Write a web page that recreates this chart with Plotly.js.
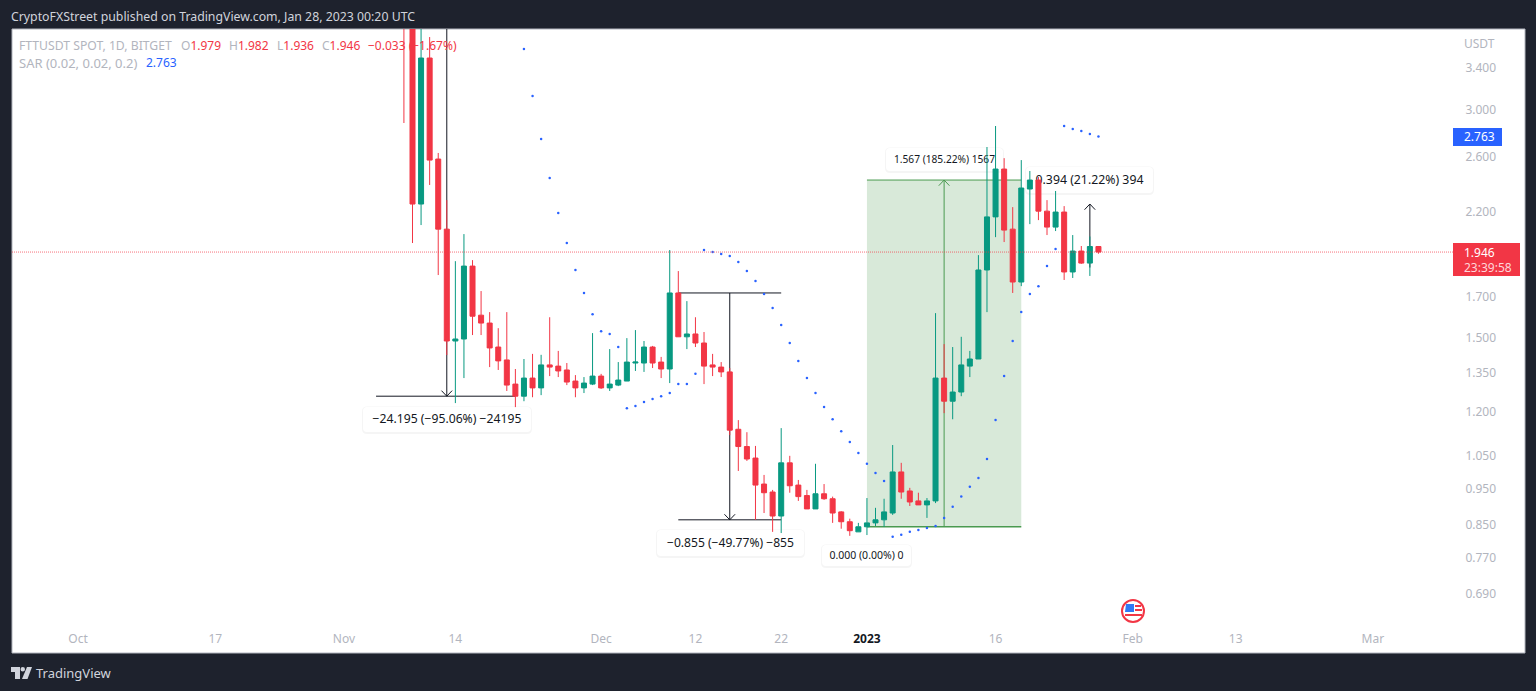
<!DOCTYPE html>
<html>
<head>
<meta charset="utf-8">
<script src="https://cdn.plot.ly/plotly-3.0.1.min.js"></script>
<style>html,body{margin:0;padding:0;background:#1e222d;overflow:hidden}#c{width:1536px;height:691px}</style>
</head>
<body>
<div id="c"></div>
<script>
const dates = [
"2022-11-08","2022-11-09","2022-11-10","2022-11-11","2022-11-12","2022-11-13","2022-11-14","2022-11-15","2022-11-16","2022-11-17","2022-11-18","2022-11-19","2022-11-20","2022-11-21","2022-11-22","2022-11-23","2022-11-24","2022-11-25","2022-11-26","2022-11-27","2022-11-28","2022-11-29","2022-11-30",
"2022-12-01","2022-12-02","2022-12-03","2022-12-04","2022-12-05","2022-12-06","2022-12-07","2022-12-08","2022-12-09","2022-12-10","2022-12-11","2022-12-12","2022-12-13","2022-12-14","2022-12-15","2022-12-16","2022-12-17","2022-12-18","2022-12-19","2022-12-20","2022-12-21","2022-12-22","2022-12-23","2022-12-24","2022-12-25","2022-12-26","2022-12-27","2022-12-28","2022-12-29","2022-12-30","2022-12-31",
"2023-01-01","2023-01-02","2023-01-03","2023-01-04","2023-01-05","2023-01-06","2023-01-07","2023-01-08","2023-01-09","2023-01-10","2023-01-11","2023-01-12","2023-01-13","2023-01-14","2023-01-15","2023-01-16","2023-01-17","2023-01-18","2023-01-19","2023-01-20","2023-01-21","2023-01-22","2023-01-23","2023-01-24","2023-01-25","2023-01-26","2023-01-27","2023-01-28"];

const opens = [6.0,5.0,2.251,3.505,2.58,2.086,1.486,1.495,1.865,1.607,1.569,1.459,1.403,1.304,1.257,1.328,1.289,1.382,1.377,1.361,1.316,1.289,1.304,
1.336,1.289,1.300,1.316,1.390,1.390,1.459,1.394,1.365,1.719,1.505,1.518,1.477,1.382,1.373,1.353,1.137,1.079,1.042,0.963,0.940,0.874,1.027,0.960,0.930,0.893,0.935,0.921,0.885,0.859,0.833,
0.846,0.856,0.864,0.882,0.999,0.943,0.915,0.904,0.915,1.328,1.238,1.273,1.377,1.407,1.843,2.165,2.503,2.086,1.777,2.356,2.421,2.203,2.099,2.197,1.832,1.952,1.882,1.979];
const highs = [7.0,5.5,4.2,3.735,2.628,2.278,1.893,2.055,1.899,1.729,1.622,1.545,1.622,1.365,1.407,1.429,1.425,1.597,1.442,1.390,1.340,1.332,1.522,
1.345,1.450,1.394,1.499,1.536,1.486,1.464,1.416,1.958,1.837,1.677,1.597,1.527,1.429,1.394,1.369,1.169,1.127,1.081,0.990,0.946,1.141,1.049,0.975,0.946,1.024,0.963,0.927,0.887,0.867,0.856,
0.923,0.896,0.921,1.084,1.027,0.952,0.938,0.923,1.617,1.472,1.459,1.505,1.442,1.928,2.676,2.852,2.587,2.230,2.572,2.488,2.443,2.278,2.342,2.237,2.049,1.982,2.04,1.982];
const lows = [2.878,2.000,2.112,2.385,1.815,1.424,1.231,1.328,1.513,1.513,1.373,1.361,1.277,1.216,1.238,1.253,1.261,1.336,1.332,1.300,1.253,1.269,1.300,
1.285,1.277,1.296,1.316,1.357,1.353,1.369,1.328,1.308,1.505,1.450,1.459,1.304,1.336,1.332,1.117,1.002,1.033,0.864,0.882,0.833,0.830,0.938,0.915,0.893,0.893,0.918,0.856,0.841,0.823,0.833,
0.825,0.848,0.846,0.877,0.921,0.901,0.904,0.869,0.909,1.194,1.172,1.257,1.332,1.407,1.622,2.036,2.006,1.719,1.755,2.118,2.144,2.049,2.074,1.788,1.799,1.877,1.810,1.936];
const closes = [5.0,2.251,3.505,2.572,2.086,1.486,1.495,1.865,1.602,1.569,1.455,1.399,1.300,1.257,1.328,1.289,1.382,1.373,1.357,1.312,1.289,1.308,1.336,
1.289,1.304,1.320,1.394,1.394,1.459,1.390,1.365,1.719,1.505,1.518,1.477,1.377,1.373,1.353,1.134,1.079,1.039,0.960,0.938,0.874,1.027,0.958,0.927,0.893,0.935,0.921,0.882,0.859,0.836,0.846,
0.856,0.864,0.885,0.999,0.940,0.912,0.904,0.915,1.328,1.238,1.273,1.382,1.407,1.843,2.165,2.503,2.080,1.777,2.363,2.421,2.203,2.099,2.197,1.832,1.952,1.882,1.979,1.946];

const sarStart = 14; // SAR dots begin on 2022-11-22
const sarValues = [3.602,3.123,2.741,2.436,2.190,2.000,1.843,1.719,1.612,
1.531,1.518,1.459,1.212,1.220,1.235,1.246,1.257,1.269,1.304,1.304,1.345,1.958,1.946,1.934,1.923,1.888,1.837,1.783,1.714,1.642,1.560,1.477,1.399,1.328,1.269,1.216,1.172,1.130,1.094,1.058,
1.024,0.996,0.972,0.821,0.826,0.833,0.838,0.843,0.848,0.869,0.899,0.927,0.955,0.981,1.039,1.169,1.336,1.486,1.622,1.714,1.755,1.865,1.964,2.852,2.826,2.809,2.784,2.763];

const priceTicks = [0.69,0.77,0.85,0.95,1.05,1.2,1.35,1.5,1.7,2.2,2.6,3.0,3.4];
const priceLabels = ["0.690","0.770","0.850","0.950","1.050","1.200","1.350","1.500","1.700","2.200","2.600","3.000","3.400"];
const timeTicks = ["2022-10-01","2022-10-17","2022-11-01","2022-11-14","2022-12-01","2022-12-12","2022-12-22","2023-01-01","2023-01-16","2023-02-01","2023-02-13","2023-03-01"];
const timeLabels = ["Oct","17","Nov","14","Dec","12","22","<span style=\"color:#131722\"><b>2023</b></span>","16","Feb","13","Mar"];

const FONT = '"Noto Sans", "Open Sans", sans-serif';
const UP = '#089981', DOWN = '#f23645', SAR = '#2962ff', GREY = '#b2b5be', DARK = '#1e222d', INK = '#131722', BOX = '#4a9a50';
const W = 1536, H = 691, L = 12, R = 1450, T = 29, B = 625;
const px = x => (x - L) / (R - L), py = y => (B - y) / (B - T);

function pillPath(x0, y0, x1, y1, r) {
  const P = (x, y) => px(x).toFixed(5) + ',' + py(y).toFixed(5);
  return 'M' + P(x0 + r, y0) + ' L' + P(x1 - r, y0) + ' Q' + P(x1, y0) + ' ' + P(x1, y0 + r) +
    ' L' + P(x1, y1 - r) + ' Q' + P(x1, y1) + ' ' + P(x1 - r, y1) +
    ' L' + P(x0 + r, y1) + ' Q' + P(x0, y1) + ' ' + P(x0, y1 - r) +
    ' L' + P(x0, y0 + r) + ' Q' + P(x0, y0) + ' ' + P(x0 + r, y0) + ' Z';
}
function polyPath(pts) {
  return 'M' + pts.map(p => px(p[0]).toFixed(5) + ',' + py(p[1]).toFixed(5)).join(' L') + ' Z';
}
const paperShape = o => Object.assign({xref: 'paper', yref: 'paper', layer: 'below'}, o);
function rectPx(x0, y0, x1, y1, fill, layer, line) {
  return paperShape({type: 'rect', x0: px(x0), x1: px(x1), y0: py(y0), y1: py(y1), fillcolor: fill,
    layer: layer || 'below', line: line || {width: 0}});
}
function pill(x0, y0, x1, y1, text, size) {
  return [
    paperShape({type: 'path', path: pillPath(x0 - 1, y0 - 0.5, x1 + 1, y1 + 2, 5), fillcolor: 'rgba(0,0,0,0.04)', line: {width: 0}}),
    paperShape({type: 'path', path: pillPath(x0, y0, x1, y1, 4), fillcolor: '#ffffff', line: {width: 0},
      label: {text: text, font: {family: FONT, size: size, color: INK}, textposition: 'middle center'}})
  ];
}
function line(x0, y0, x1, y1, color, width) {
  return {type: 'line', xref: 'x', yref: 'y', layer: 'below', x0, y0, x1, y1, line: {color, width: width || 1}};
}
function chevron(d, price, dir, color) {
  const t = Date.parse(d + 'T00:00:00Z'), dt = 0.62 * 864e5;
  const a = new Date(t - dt).toISOString(), b = new Date(t + dt).toISOString();
  const p = price * (1 - dir * 0.017);
  return [line(a, p, d, price, color, 1), line(b, p, d, price, color, 1)];
}

const shapes = [
  rectPx(L, T, 1525, 653, '#ffffff', 'below', {color: '#b2b5be', width: 1}),
  // long-position drawing
  {type: 'rect', xref: 'x', yref: 'y', layer: 'below', x0: '2023-01-01', x1: '2023-01-19', y0: 0.846, y1: 2.421,
    fillcolor: 'rgba(76,155,80,0.22)', line: {width: 0}},
  line('2023-01-01', 2.421, '2023-01-19', 2.421, BOX, 1),
  line('2023-01-01', 0.846, '2023-01-19', 0.846, BOX, 1.5),
  line('2023-01-10', 0.846, '2023-01-10', 2.421, BOX, 1),
  ...chevron('2023-01-10', 2.421, 1, BOX),
  // price-range drawings
  line('2022-11-13', 25.45, '2022-11-13', 1.257, INK, 1),
  line('2022-11-04 18:00', 1.257, '2022-11-21', 1.257, INK, 1),
  ...chevron('2022-11-13', 1.257, -1, INK),
  line('2022-12-16', 1.719, '2022-12-16', 0.864, INK, 1),
  line('2022-12-10', 1.719, '2022-12-22', 1.719, INK, 1),
  line('2022-12-10', 0.864, '2022-12-22', 0.864, INK, 1),
  ...chevron('2022-12-16', 0.864, -1, INK),
  line('2023-01-27', 1.857, '2023-01-27', 2.251, INK, 1),
  ...chevron('2023-01-27', 2.251, 1, INK),
  // drawing labels, behind the candles
  ...pill(363, 407, 531, 432, '\u221224.195 (\u221295.06%) \u221224195', 12.2),
  ...pill(657, 530, 804, 556, '\u22120.855 (\u221249.77%) \u2212855', 12.1),
  ...pill(822, 545, 911, 566, '0.000 (0.00%) 0', 10.5),
  ...pill(886, 148, 1003, 171, '1.567 (185.22%) 1567', 10.2),
  ...pill(1026, 167, 1153, 193, '0.394 (21.22%) 394', 12.3),
  // last-price line
  {type: 'line', xref: 'paper', yref: 'y', layer: 'above', x0: 0, x1: 1.002, y0: 1.946, y1: 1.946,
    line: {color: 'rgba(242,54,69,0.7)', width: 1, dash: '1px,1px'}},
  // price tags
  rectPx(1453, 128, 1502, 146, SAR, 'above'),
  rectPx(1453, 243, 1520, 276, DOWN, 'above'),
  // US flag event marker
  paperShape({type: 'circle', layer: 'above', x0: px(1122), x1: px(1144), y0: py(600), y1: py(622), fillcolor: '#ffffff', line: {color: DOWN, width: 2}}),
  paperShape({type: 'path', layer: 'above', path: polyPath([[1126, 604], [1134, 604], [1134, 612], [1125, 612]]), fillcolor: '#3179f5', line: {width: 0}}),
  rectPx(1135, 605, 1141, 607, DOWN, 'above'),
  rectPx(1135, 609, 1142, 611, DOWN, 'above'),
  rectPx(1125, 614, 1142, 616, DOWN, 'above'),
  // TradingView mark in the footer
  paperShape({type: 'path', path: polyPath([[11, 667], [20, 667], [20, 679], [15, 679], [15, 672], [11, 672]]), fillcolor: '#d1d4dc', line: {width: 0}}),
  paperShape({type: 'circle', x0: px(20.5), x1: px(25), y0: py(667), y1: py(671.5), fillcolor: '#d1d4dc', line: {width: 0}}),
  paperShape({type: 'path', path: polyPath([[27, 667], [32, 667], [27.5, 679], [22, 679]]), fillcolor: '#d1d4dc', line: {width: 0}})
];

function note(x, y, text, color, size, anchor) {
  return {xref: 'paper', yref: 'paper', x: px(x), y: py(y), text, showarrow: false, xanchor: anchor || 'left', yanchor: 'middle',
    font: {family: FONT, size: size || 12, color}, align: 'left', borderpad: 0, borderwidth: 0};
}
const annotations = [
  note(11, 17, 'CryptoFXStreet published on TradingView.com, Jan 28, 2023 00:20 UTC', '#d1d4dc', 12.3),
  note(36, 673, 'TradingView', '#d1d4dc', 13),
  note(19, 46, 'FTTUSDT SPOT, 1D, BITGET', GREY, 12.2),
  note(181, 46, 'O<span style="color:#f23645">1.979</span>', GREY, 12),
  note(229, 46, 'H<span style="color:#f23645">1.982</span>', GREY, 12),
  note(277, 46, 'L<span style="color:#f23645">1.936</span>', GREY, 12),
  note(322, 46, 'C<span style="color:#f23645">1.946</span>', GREY, 12),
  note(368, 46, '\u22120.033 (\u22121.67%)', DOWN, 12),
  note(19, 63, 'SAR (0.02, 0.02, 0.2)', GREY, 13),
  note(146, 63, '2.763', SAR, 12),
  note(1464, 43, 'USDT', GREY, 12),
  note(1464, 137, '2.763', '#ffffff', 12),
  note(1464, 252, '1.946', '#ffffff', 12),
  note(1464, 267, '23:39:58', '#ffd5d9', 12)
];

const traces = [
  {type: 'candlestick', name: 'FTTUSDT', x: dates, open: opens, high: highs, low: lows, close: closes,
    increasing: {line: {color: UP, width: 1}, fillcolor: UP},
    decreasing: {line: {color: DOWN, width: 1}, fillcolor: DOWN},
    whiskerwidth: 0},
  {type: 'scatter', mode: 'markers', name: 'SAR', x: dates.slice(sarStart), y: sarValues,
    marker: {color: SAR, size: 2.5, symbol: 'circle'}}
];

const layout = {
  width: W, height: H,
  margin: {l: L, r: W - R, t: T, b: H - B, pad: 0},
  paper_bgcolor: DARK, plot_bgcolor: '#ffffff',
  showlegend: false, dragmode: false, hovermode: false,
  boxgap: 0.3, boxgroupgap: 0.167,
  font: {family: FONT, size: 12, color: GREY},
  xaxis: {type: 'date', range: ['2022-09-23 07:00', '2023-03-10'], rangeslider: {visible: false},
    tickmode: 'array', tickvals: timeTicks, ticktext: timeLabels, tickangle: 0,
    showgrid: false, zeroline: false, showline: false, ticks: 'outside', ticklen: 3, tickcolor: 'rgba(0,0,0,0)',
    tickfont: {family: FONT, size: 12, color: GREY}, automargin: false},
  yaxis: {type: 'log', side: 'right', range: [-0.2020, 0.5829],
    tickmode: 'array', tickvals: priceTicks, ticktext: priceLabels,
    showgrid: false, zeroline: false, showline: false, ticks: 'outside', ticklen: 12, tickcolor: 'rgba(0,0,0,0)',
    tickfont: {family: FONT, size: 12, color: GREY}, automargin: false},
  shapes, annotations
};
Plotly.newPlot('c', traces, layout, {displayModeBar: false, staticPlot: true});
</script>
</body>
</html>
